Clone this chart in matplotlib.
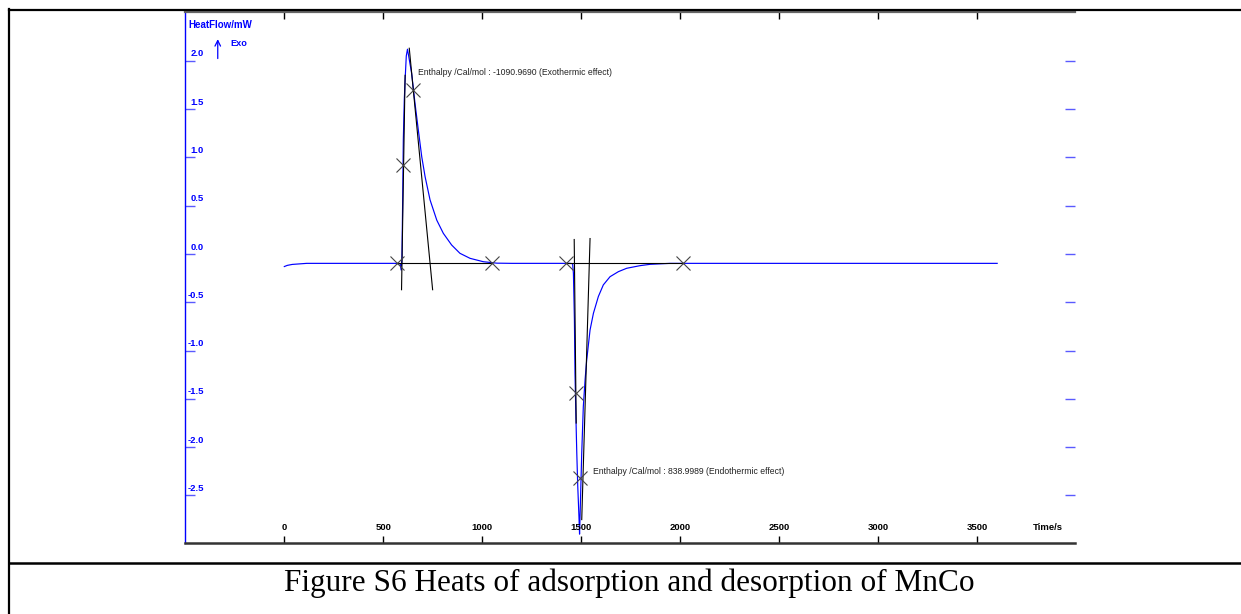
import matplotlib
matplotlib.use("Agg")
import matplotlib.pyplot as plt
from matplotlib.lines import Line2D
from matplotlib.transforms import blended_transform_factory

# Heat flow signal (time in s, heat flow in mW)
time_s = [0, 15, 40, 80, 113, 200, 400, 559, 585, 590, 594, 598, 601, 606,
          610, 616, 622, 628, 643, 660, 677, 694, 711, 736, 770, 803, 845,
          887, 938, 1005, 1073, 1150, 1300, 1440, 1456, 1460, 1465, 1468,
          1473, 1477, 1482, 1488, 1491, 1495, 1502, 1510, 1519, 1527, 1544,
          1561, 1586, 1611, 1645, 1687, 1729, 1796, 1847, 1948, 2200, 2600,
          3000, 3600]
heat_flow = [-0.13, -0.118, -0.108, -0.102, -0.097, -0.097, -0.097, -0.097,
             -0.10, -0.166, -0.05, 0.6, 1.18, 1.6, 1.8, 2.05, 2.12, 2.05,
             1.87, 1.56, 1.28, 1.007, 0.80, 0.56, 0.35, 0.214, 0.093, 0.007,
             -0.045, -0.08, -0.095, -0.097, -0.097, -0.097, -0.10, -0.2,
             -0.68, -1.235, -1.72, -2.06, -2.41, -2.72, -2.9, -2.6, -2.06,
             -1.58, -1.30, -1.10, -0.787, -0.614, -0.44, -0.32, -0.235,
             -0.183, -0.148, -0.121, -0.107, -0.097, -0.097, -0.097, -0.097,
             -0.097]

# integration construction lines
exo_lead_t, exo_lead_v = [592, 610], [-0.37, 1.85]
exo_trail_t, exo_trail_v = [631, 749], [2.13, -0.37]
exo_base_t, exo_base_v = [568, 1047], [-0.097, -0.097]
endo_lead_t, endo_lead_v = [1464, 1474], [0.15, -1.75]
endo_trail_t, endo_trail_v = [1544, 1502], [0.16, -2.75]
endo_base_t, endo_base_v = [1423, 2015], [-0.097, -0.097]

exo_mark_t = [568, 601, 648, 1047]
exo_mark_v = [-0.097, 0.92, 1.70, -0.097]
endo_mark_t = [1423, 1473, 1493, 2015]
endo_mark_v = [-0.097, -1.44, -2.32, -0.097]

x_ticks = [0, 500, 1000, 1500, 2000, 2500, 3000, 3500]
y_ticks = [-2.5, -2.0, -1.5, -1.0, -0.5, 0.0, 0.5, 1.0, 1.5, 2.0]

exo_label = "Enthalpy /Cal/mol : -1090.9690 (Exothermic effect)"
endo_label = "Enthalpy /Cal/mol : 838.9989 (Endothermic effect)"
caption = "Figure S6 Heats of adsorption and desorption of MnCo"

plt.rcParams["font.family"] = ["Liberation Sans", "DejaVu Sans"]

fig = plt.figure(figsize=(12.41, 6.14), dpi=100)
ax = fig.add_axes([185 / 1241, 71 / 614, 890 / 1241, 530.5 / 614])

ax.plot(time_s, heat_flow, color="#0000ff", lw=0.85, zorder=3)
for tt, vv in [(exo_lead_t, exo_lead_v), (exo_trail_t, exo_trail_v),
               (exo_base_t, exo_base_v), (endo_lead_t, endo_lead_v),
               (endo_trail_t, endo_trail_v), (endo_base_t, endo_base_v)]:
    ax.plot(tt, vv, color="black", lw=0.8, zorder=4)
ax.plot(exo_mark_t + endo_mark_t, exo_mark_v + endo_mark_v, ls="none",
        marker="x", ms=9.5, mew=0.8, color="#444444", zorder=5)

ax.text(677, 1.881, exo_label, fontsize=6.2, color="#222222", va="center")
ax.text(1559, -2.254, endo_label, fontsize=6.2, color="#222222", va="center")

ax.set_xlim(-501.5, 3993)
ax.set_ylim(-2.992, 2.5)

# spines
ax.spines["right"].set_visible(False)
ax.spines["left"].set_color("#0000ff")
ax.spines["left"].set_linewidth(1.0)
ax.spines["bottom"].set_color("#333333")
ax.spines["bottom"].set_linewidth(1.8)
ax.spines["top"].set_color("#666666")
ax.spines["top"].set_linewidth(1.6)

ax.set_xticks(x_ticks)
ax.set_xticklabels([])
ax.tick_params(axis="x", direction="in", length=5, width=1.0, color="black",
               top=True, bottom=True)
ax.set_yticks(y_ticks)
ax.set_yticklabels([])
ax.tick_params(axis="y", direction="in", length=7.5, width=1.0,
               color="#5a5aff", left=True, right=True)

# tick labels drawn inside the frame, like the instrument software
tr_y = blended_transform_factory(ax.transAxes, ax.transData)
for v in y_ticks:
    ax.text(0.0213, v + 0.025, f"{v:.1f}", transform=tr_y, ha="right",
            va="bottom", fontsize=6.8, fontweight="bold", color="#0000ff")
tr_x = blended_transform_factory(ax.transData, ax.transAxes)
for t in x_ticks:
    ax.text(t, 0.030, f"{t}", transform=tr_x, ha="center", va="center",
            fontsize=6.8, fontweight="bold", color="black")
ax.text(3857, 0.030, "Time/s", transform=tr_x, ha="center", va="center",
        fontsize=6.8, fontweight="bold", color="black")

ax.text(0.004, 0.976, "HeatFlow/mW", transform=ax.transAxes, ha="left",
        va="center", fontsize=7.0, fontweight="bold", color="#0000ff")
ax.annotate("", xy=(0.0368, 0.955), xytext=(0.0368, 0.908),
            xycoords="axes fraction",
            arrowprops=dict(arrowstyle="->", color="#0000ff", lw=0.9,
                            mutation_scale=10))
ax.text(0.0506, 0.942, "Exo", transform=ax.transAxes, ha="left",
        va="center", fontsize=6.6, fontweight="bold", color="#0000ff")

# surrounding table lines
W, H = 1241, 614
fig.add_artist(Line2D([9 / W, 9 / W], [0, 1 - 8.5 / H], color="black",
                      lw=1.6, transform=fig.transFigure))
fig.add_artist(Line2D([8.5 / W, 1], [1 - 10 / H, 1 - 10 / H], color="black",
                      lw=1.6, transform=fig.transFigure))
fig.add_artist(Line2D([9 / W, 1], [1 - 562.5 / H, 1 - 562.5 / H],
                      color="black", lw=1.8, transform=fig.transFigure))

fig.text(629 / W, 23 / H, caption, ha="center", va="baseline",
         fontsize=22.5, family="Liberation Serif", color="black")

fig.savefig("out.png", dpi=100)
